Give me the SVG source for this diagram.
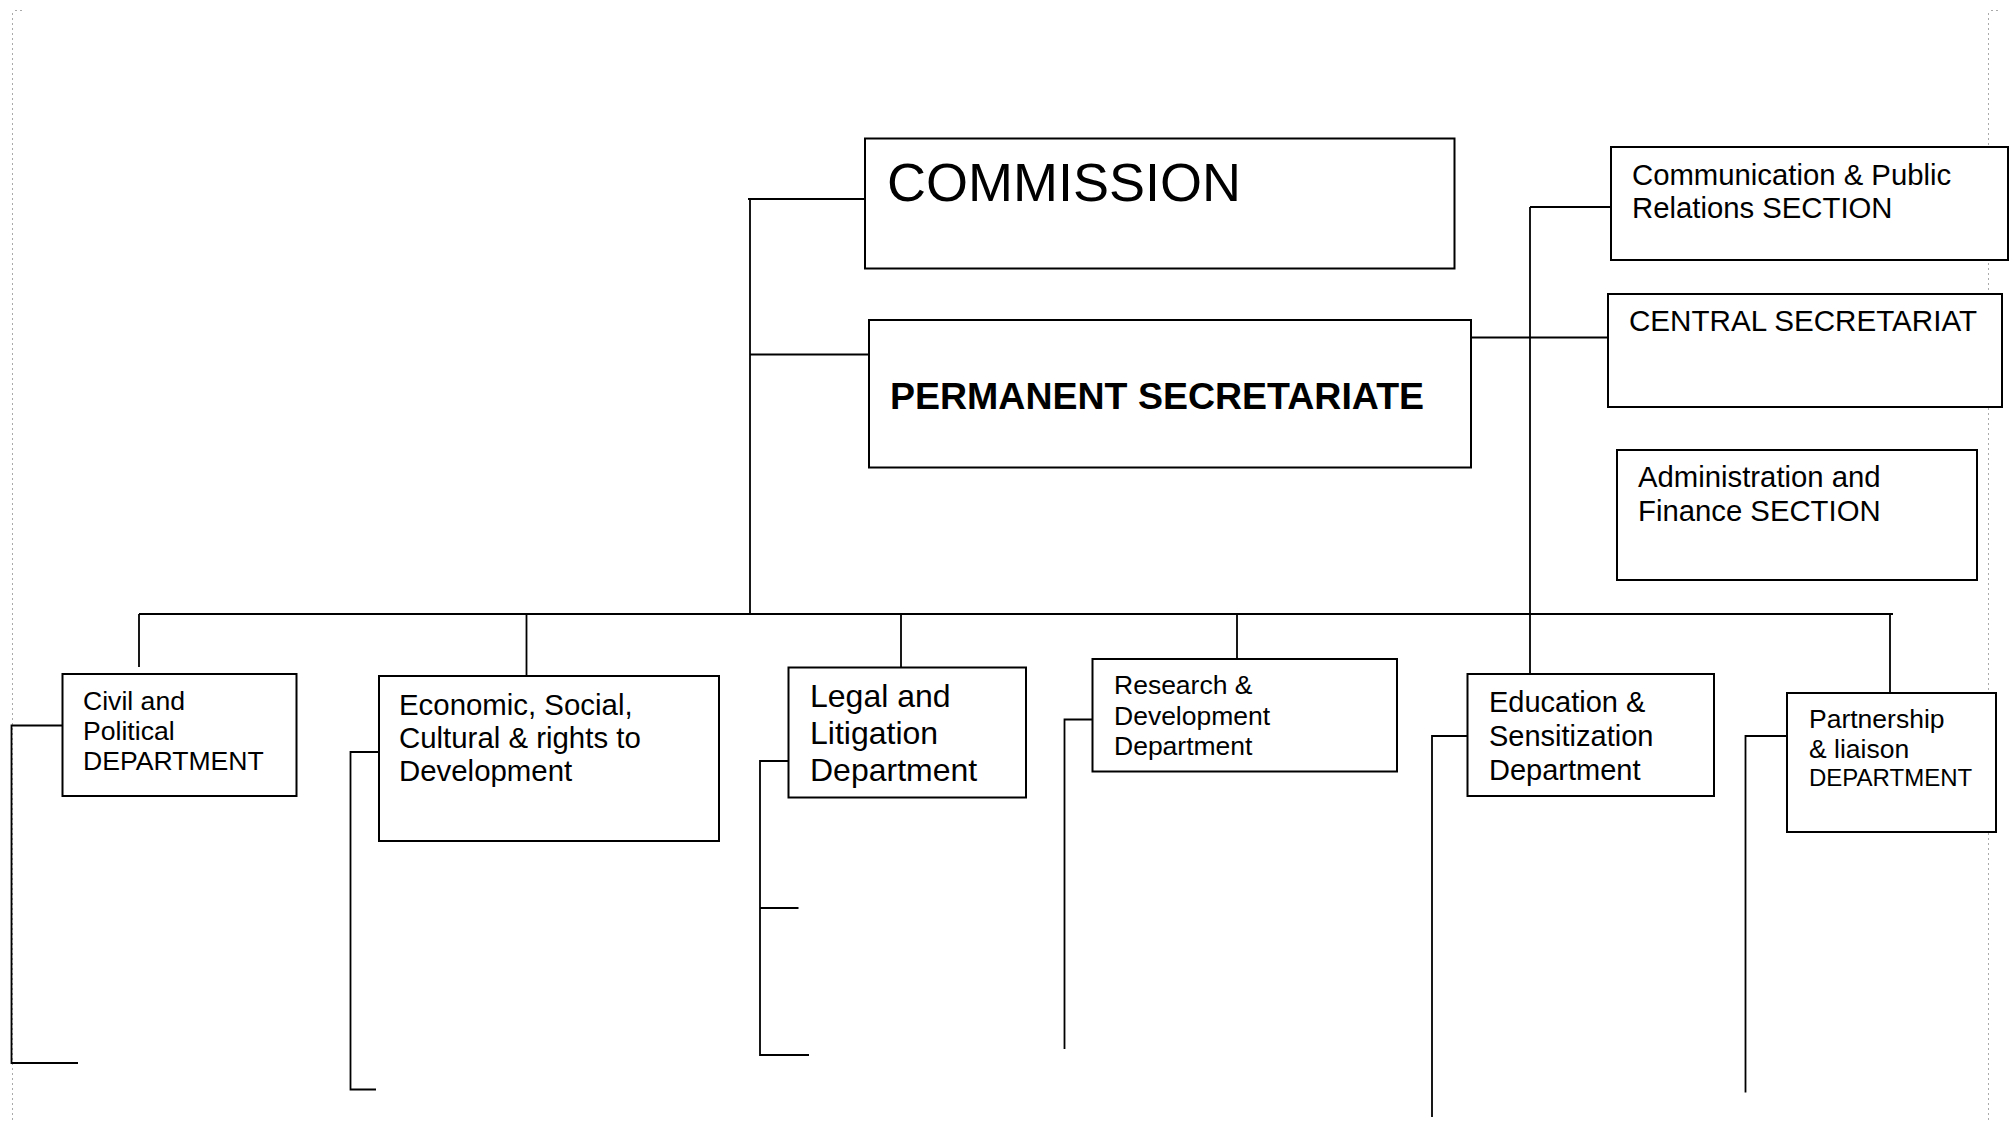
<svg xmlns="http://www.w3.org/2000/svg" width="2013" height="1122" viewBox="0 0 2013 1122">
<style>
.box{fill:#fff;stroke:#000;stroke-width:2}
.ln{fill:none;stroke:#000;stroke-width:1.8}
.pg{fill:none;stroke:#aaa;stroke-width:1;stroke-dasharray:2 3}
text{font-family:"Liberation Sans",Arial,sans-serif;fill:#000}
</style>
<rect width="2013" height="1122" fill="#fff"/>
<g id="page-marks">
<path class="pg" d="M12.5 13 V1122 M15 10.5 H22 M1988.5 13 V1122 M1991 10.5 H1998"/>
</g>
<g id="connectors">
<path class="ln" d="M748 199 H865 M750 199 V614 M750 354.5 H869"/>
<path class="ln" d="M139 614 H1893"/>
<path class="ln" d="M139 614 V667 M526.5 614 V676 M901 614 V667.5 M1237 614 V659 M1890 614 V693"/>
<path class="ln" d="M1471 337.5 H1608 M1530 207 V674 M1530 207 H1611"/>
<path class="ln" d="M62 725.5 H11.5 V1063 H78"/>
<path class="ln" d="M379 752 H350.5 V1089.5 H376"/>
<path class="ln" d="M788 761 H760 V1055 H809 M760 908 H798.5"/>
<path class="ln" d="M1093 719.5 H1064.5 V1049"/>
<path class="ln" d="M1467 736 H1432 V1117"/>
<path class="ln" d="M1787 736 H1745.5 V1092.5"/>
</g>
<g id="commission">
<rect class="box" x="865" y="138.5" width="589.5" height="130"/>
<text x="887" y="201" font-size="54">COMMISSION</text>
</g>
<g id="permanent-secretariate">
<rect class="box" x="869" y="320" width="602" height="147.5"/>
<text x="890" y="409" font-size="37.5" font-weight="bold">PERMANENT SECRETARIATE</text>
</g>
<g id="communication">
<rect class="box" x="1611" y="147" width="397" height="113"/>
<text x="1632" y="184.5" font-size="29.3">Communication &amp; Public</text>
<text x="1632" y="217.5" font-size="29.3">Relations SECTION</text>
</g>
<g id="central-secretariat">
<rect class="box" x="1608" y="294" width="394" height="113"/>
<text x="1629" y="331" font-size="29.6">CENTRAL SECRETARIAT</text>
</g>
<g id="administration">
<rect class="box" x="1617" y="450" width="360" height="130"/>
<text x="1638" y="487" font-size="29.3">Administration and</text>
<text x="1638" y="521" font-size="29.3">Finance SECTION</text>
</g>
<g id="civil">
<rect class="box" x="62.5" y="674" width="234" height="122"/>
<text x="83" y="710" font-size="26.6">Civil and</text>
<text x="83" y="740" font-size="26.6">Political</text>
<text x="83" y="770" font-size="26.6">DEPARTMENT</text>
</g>
<g id="economic">
<rect class="box" x="379" y="676" width="340" height="165"/>
<text x="399" y="714.5" font-size="29.4">Economic, Social,</text>
<text x="399" y="748" font-size="29.4">Cultural &amp; rights to</text>
<text x="399" y="781" font-size="29.4">Development</text>
</g>
<g id="legal">
<rect class="box" x="788.5" y="667.5" width="237.5" height="130"/>
<text x="810" y="707" font-size="32">Legal and</text>
<text x="810" y="744" font-size="32">Litigation</text>
<text x="810" y="781" font-size="32">Department</text>
</g>
<g id="research">
<rect class="box" x="1092.5" y="659" width="304.5" height="112.5"/>
<text x="1114" y="694" font-size="26.5">Research &amp;</text>
<text x="1114" y="725" font-size="26.5">Development</text>
<text x="1114" y="755" font-size="26.5">Department</text>
</g>
<g id="education">
<rect class="box" x="1467.5" y="674" width="246.5" height="122"/>
<text x="1489" y="712" font-size="29">Education &amp;</text>
<text x="1489" y="746" font-size="29">Sensitization</text>
<text x="1489" y="779.5" font-size="29">Department</text>
</g>
<g id="partnership">
<rect class="box" x="1787" y="693" width="209" height="139"/>
<text x="1809" y="727.5" font-size="26.5">Partnership</text>
<text x="1809" y="758" font-size="26.5">&amp; liaison</text>
<text x="1809" y="786" font-size="24">DEPARTMENT</text>
</g>
</svg>
